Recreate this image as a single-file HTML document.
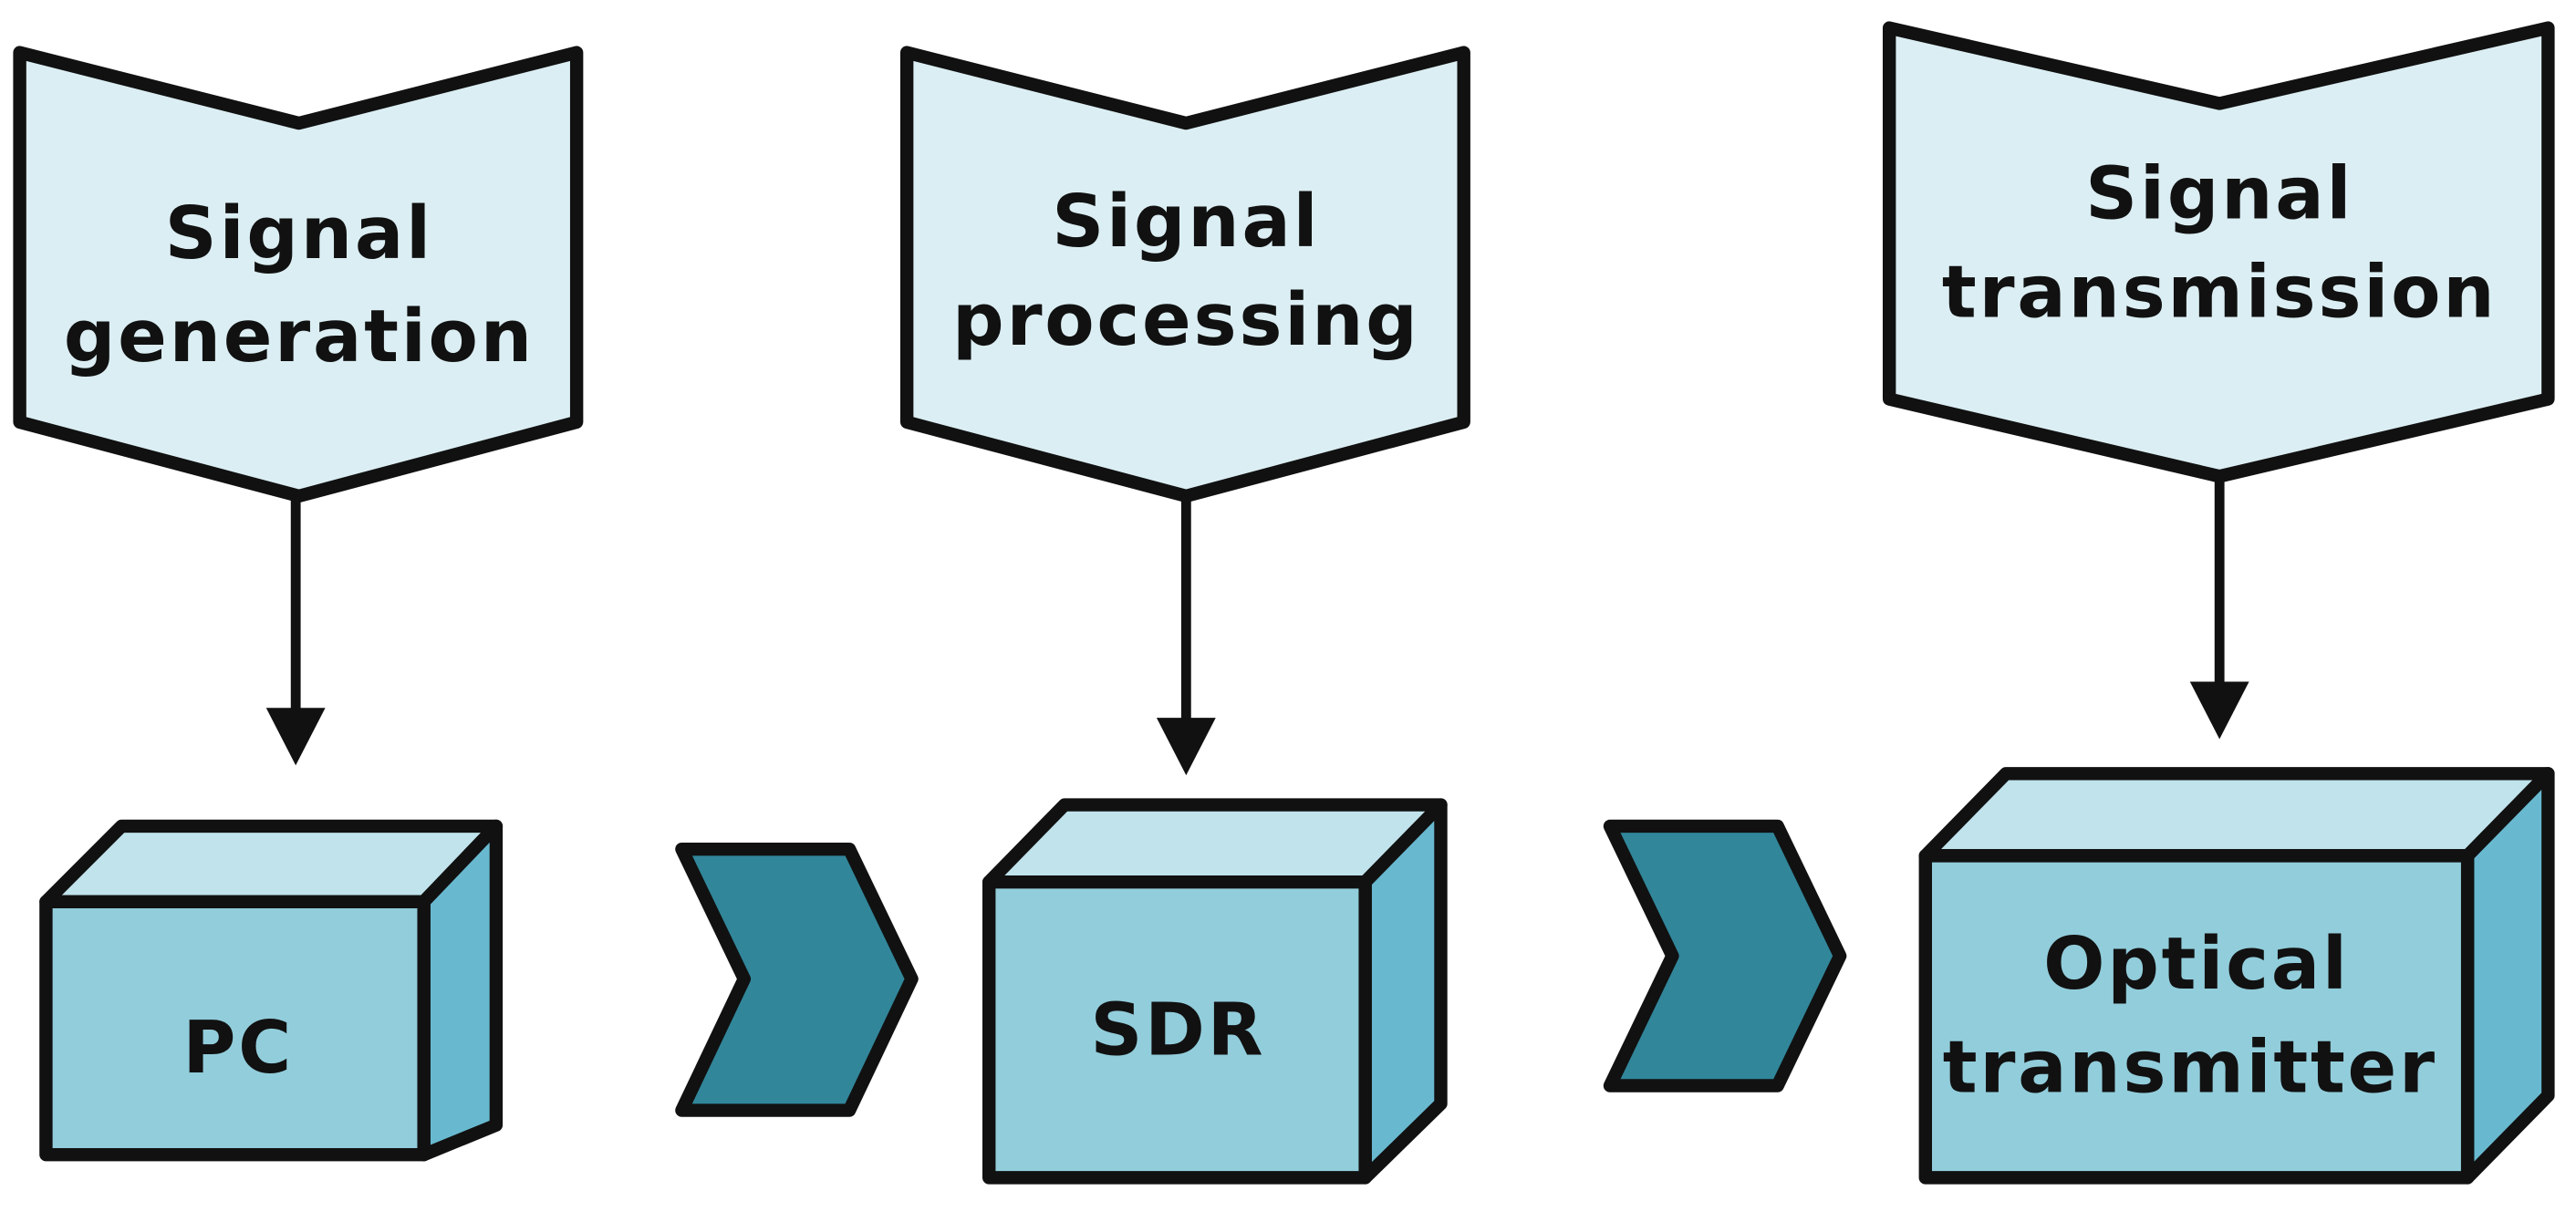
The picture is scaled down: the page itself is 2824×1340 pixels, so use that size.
<!DOCTYPE html>
<html><head><style>html,body{margin:0;padding:0;background:#fff}svg{display:block}</style></head>
<body>
<svg width="2824" height="1340" viewBox="0 0 1568 744" preserveAspectRatio="none" xmlns="http://www.w3.org/2000/svg">
<g stroke="#111" stroke-width="8" stroke-linejoin="round">
<polygon points="12,32 182,75 351,32 351,257 182,302 12,257" fill="#dbeef3"/>
<polygon points="552,32 722,75 891,32 891,257 722,302 552,257" fill="#dbeef3"/>
<polygon points="1150,17 1351,63 1551,17 1551,243 1351,290 1150,243" fill="#dbeef3"/>
</g>
<g stroke="#111" stroke-width="6">
<line x1="180" y1="302" x2="180" y2="434"/>
<line x1="722" y1="302" x2="722" y2="440"/>
<line x1="1351" y1="290" x2="1351" y2="417"/>
</g>
<g fill="#111">
<polygon points="162,431 198,431 180,466"/>
<polygon points="704,437 740,437 722,472"/>
<polygon points="1333,415 1369,415 1351,450"/>
</g>
<g stroke="#111" stroke-width="8" stroke-linejoin="round">
<polygon points="28,549 74,503 302,503 258,549" fill="#c0e3ec"/>
<polygon points="258,549 302,503 302,685 258,703" fill="#68b9d0"/>
<rect x="28" y="549" width="230" height="154" fill="#92cddb"/>
<polygon points="602,537 648,490 877,490 831,537" fill="#c0e3ec"/>
<polygon points="831,537 877,490 877,672 831,717" fill="#68b9d0"/>
<rect x="602" y="537" width="229" height="180" fill="#92cddb"/>
<polygon points="1172,521 1221,471 1551,471 1502,521" fill="#c0e3ec"/>
<polygon points="1502,521 1551,471 1551,667 1502,717" fill="#68b9d0"/>
<rect x="1172" y="521" width="330" height="196" fill="#92cddb"/>
<polygon points="415,517 517,517 555,596 517,676 415,676 453,596" fill="#31869a"/>
<polygon points="980,503 1082,503 1120,582 1082,661 980,661 1018,582" fill="#31869a"/>
</g>
<g font-family="DejaVu Sans, Liberation Sans, sans-serif" font-weight="bold" font-size="44" fill="#111" text-anchor="middle" letter-spacing="1.5">
<text x="182" y="157">Signal</text>
<text x="182" y="220">generation</text>
<text x="722" y="150">Signal</text>
<text x="722" y="210">processing</text>
<text x="1351" y="133">Signal</text>
<text x="1351" y="193">transmission</text>
<text x="145" y="653">PC</text>
<text x="717" y="642">SDR</text>
<text x="1337" y="602">Optical</text>
<text x="1333" y="665">transmitter</text>
</g>
</svg>
</body></html>
